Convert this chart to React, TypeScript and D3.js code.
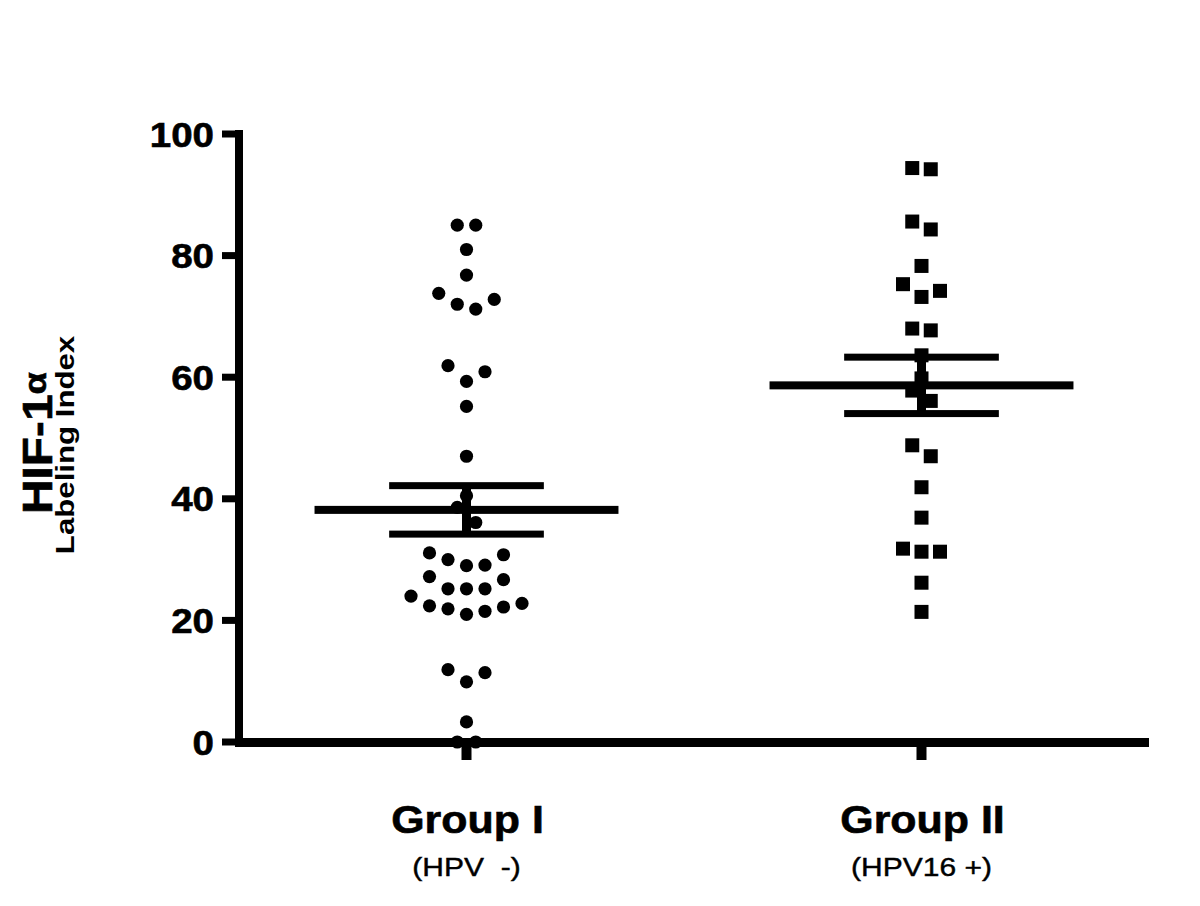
import React from "react";
import * as d3 from "d3";

const groups = ["Group I", "Group II"];
const subLabels = ["(HPV  -)", "(HPV16 +)"];
const groupI = [
  85, 85, 81, 76.8, 73.8, 72, 71.2, 72.8, 61.9, 60.9, 59.3, 55.2, 47, 40.5, 38.6, 36.1,
  30.8, 29.1, 29.0, 30.0, 31.1, 27.2, 25.2, 25.2, 25.2, 26.7,
  22.8, 22.2, 21.5, 21.0, 21.9, 22.4, 24.0, 11.9, 9.9, 11.4, 3.3, 0, 0,
];
const groupII = [
  94.4, 94.2, 85.6, 84.3, 78.3, 75.3, 74.2, 73.2, 68, 67.7, 63.6, 59.8, 57.8, 56.1,
  48.8, 47, 41.9, 36.9, 31.8, 31.3, 31.3, 26.2, 21.4,
];
const yTicks = [0, 20, 40, 60, 80, 100];

const FONT = "'Liberation Sans', Arial, sans-serif";

function swarm(values: number[], threshold: number) {
  const idx = values.map((v, i) => i).sort((a, b) => values[a] - values[b]);
  const bins: number[][] = [];
  let cur: number[] = [];
  let start = -Infinity;
  for (const i of idx) {
    if (values[i] - start > threshold) {
      if (cur.length) bins.push(cur);
      cur = [i];
      start = values[i];
    } else cur.push(i);
  }
  if (cur.length) bins.push(cur);
  const slots = new Array(values.length).fill(0);
  for (const b of bins) {
    const n = b.length;
    b.forEach((i, k) => {
      let s: number;
      if (n % 2 === 1) {
        if (k === 0) s = 0;
        else {
          const m = Math.ceil(k / 2);
          s = k % 2 === 1 ? m : -m;
        }
      } else {
        const m = Math.floor(k / 2) + 0.5;
        s = k % 2 === 0 ? m : -m;
      }
      slots[i] = s;
    });
  }
  return slots;
}

function stats(v: number[]) {
  const mean = d3.mean(v) as number;
  const sd = d3.deviation(v) as number;
  return { mean, sem: sd / Math.sqrt(v.length) };
}

export default function App() {
  const W = 1200, H = 906;
  const left = 239, right = 1149, top = 134, bottom = 742;
  const y = d3.scaleLinear().domain([0, 100]).range([bottom, top]);
  const x = d3.scaleBand().domain(groups).range([left, right]).padding(0);
  const bw = x.bandwidth();
  const cx = (g: string) => (x(g) as number) + bw / 2;
  const step = 18.5;
  const data = [groupI, groupII];
  const heavy = { stroke: "#000", strokeWidth: 0.6 };

  return (
    <svg width={W} height={H} style={{ position: "absolute", left: 0, top: 0 }} fontFamily={FONT}>
      <rect x={0} y={0} width={W} height={H} fill="#fff" />
      {/* points */}
      {data.map((vals, gi) => {
        const slots = swarm(vals, 3.2);
        const c = cx(groups[gi]);
        return vals.map((v, i) =>
          gi === 0 ? (
            <circle key={`p${gi}-${i}`} cx={c + slots[i] * step} cy={y(v)} r={6.6} fill="#000" />
          ) : (
            <rect key={`p${gi}-${i}`} x={c + slots[i] * step - 7} y={y(v) - 7} width={14} height={14} fill="#000" />
          )
        );
      })}
      {/* mean and SEM */}
      {data.map((vals, gi) => {
        const { mean, sem } = stats(vals);
        const c = cx(groups[gi]);
        const mw = bw * 0.334, sw = bw * 0.17;
        return (
          <g key={`m${gi}`} fill="#000">
            <rect x={c - mw} y={y(mean) - 4} width={mw * 2} height={8} />
            <rect x={c - sw} y={y(mean + sem) - 3.5} width={sw * 2} height={7} />
            <rect x={c - sw} y={y(mean - sem) - 3.5} width={sw * 2} height={7} />
            <rect x={c - 4.5} y={y(mean + sem)} width={9} height={y(mean - sem) - y(mean + sem)} />
          </g>
        );
      })}
      {/* y axis */}
      <rect x={left - 4} y={top - 4} width={8} height={bottom - top + 9} fill="#000" />
      {yTicks.map((t) => (
        <g key={`t${t}`}>
          <rect x={222} y={y(t) - 3.5} width={left - 222} height={7} fill="#000" />
          <text
            transform={`translate(214,${y(t) + 12.5}) scale(1.1,1)`}
            textAnchor="end"
            fontSize={35}
            fontWeight="bold"
            fill="#000"
            {...heavy}
          >
            {t}
          </text>
        </g>
      ))}
      {/* x axis */}
      <rect x={left - 4} y={bottom - 4} width={right - left + 4} height={9} fill="#000" />
      {groups.map((g, gi) => (
        <g key={`x${g}`}>
          <rect x={cx(g) - 5} y={bottom + 4} width={10} height={14} fill="#000" />
          <text
            transform={`translate(${cx(g) + 1},833) scale(1.13,1)`}
            textAnchor="middle"
            fontSize={38}
            fontWeight="bold"
            fill="#000"
            {...heavy}
          >
            {g}
          </text>
          <text
            transform={`translate(${cx(g)},876) scale(1.2,1)`}
            textAnchor="middle"
            fontSize={25}
            fill="#000"
            stroke="#000"
            strokeWidth={0.4}
            style={{ whiteSpace: "pre" }}
          >
            {subLabels[gi]}
          </text>
        </g>
      ))}
      {/* y title */}
      <text
        transform={`translate(52,443) rotate(-90) scale(1.14,1)`}
        textAnchor="middle"
        fontWeight="bold"
        fill="#000"
        {...heavy}
      >
        <tspan fontSize={42}>HIF-1</tspan>
        <tspan fontSize={32} dy={-6}>α</tspan>
      </text>
      <text
        transform={`translate(74,445) rotate(-90) scale(1.2,1)`}
        textAnchor="middle"
        fontWeight="bold"
        fontSize={26}
        fill="#000"
      >
        Labeling Index
      </text>
    </svg>
  );
}
